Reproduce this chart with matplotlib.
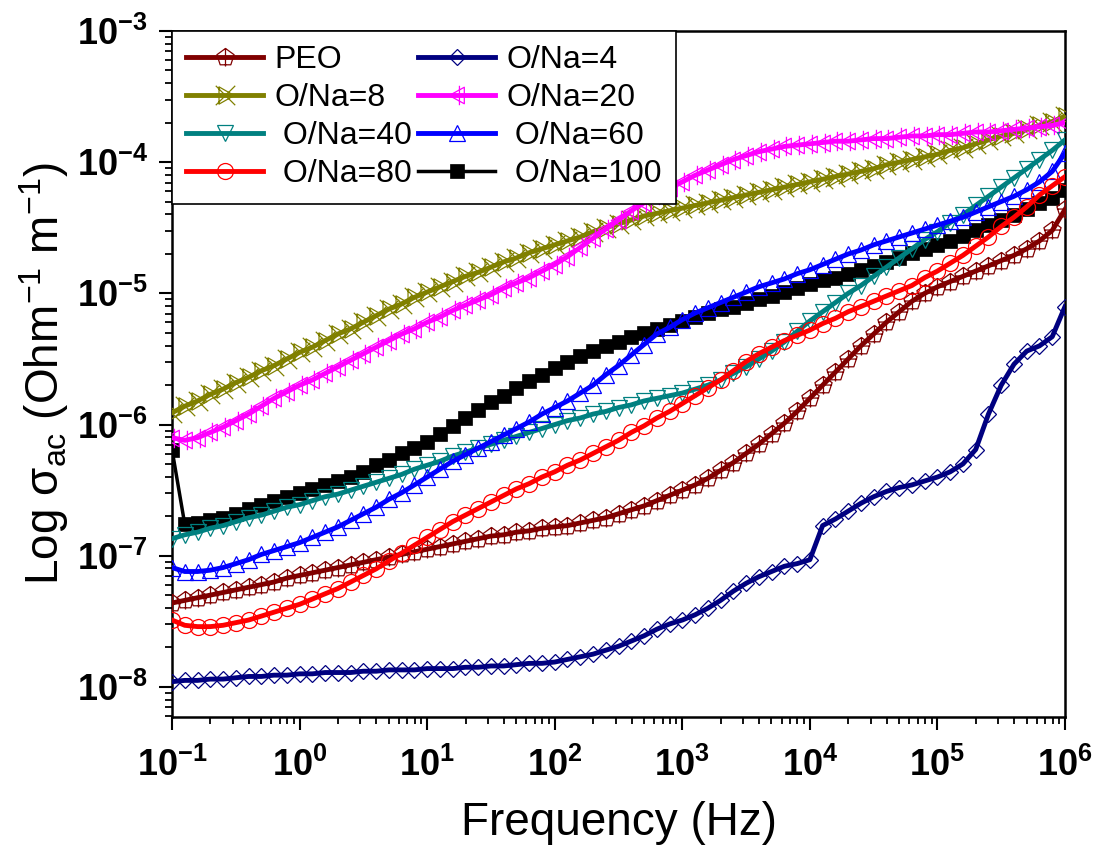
import numpy as np
import matplotlib

matplotlib.use('Agg')
import matplotlib.pyplot as plt
from matplotlib.path import Path
from matplotlib.ticker import LogLocator, FuncFormatter, NullFormatter

plt.rcParams['font.family'] = 'Liberation Sans'
plt.rcParams['mathtext.fontset'] = 'custom'
plt.rcParams['mathtext.rm'] = 'Liberation Sans'
plt.rcParams['mathtext.it'] = 'Liberation Sans:italic'
plt.rcParams['mathtext.bf'] = 'Liberation Sans:bold'

# measurement frequencies (Hz), 10 points per decade
freq = np.logspace(-1, 6, 71)

# log10 of ac conductivity for each sample
log_peo = [-7.36, -7.34, -7.32, -7.30, -7.28, -7.26, -7.24, -7.22, -7.20, -7.17,
           -7.15, -7.13, -7.11, -7.09, -7.07, -7.05, -7.03, -7.01, -6.99, -6.97,
           -6.95, -6.93, -6.91, -6.89, -6.87, -6.85, -6.84, -6.82, -6.81, -6.79,
           -6.78, -6.77, -6.75, -6.73, -6.71, -6.68, -6.65, -6.62, -6.58, -6.54,
           -6.50, -6.46, -6.41, -6.35, -6.29, -6.22, -6.15, -6.07, -5.99, -5.90,
           -5.80, -5.70, -5.60, -5.50, -5.40, -5.31, -5.22, -5.14, -5.06, -5.00,
           -4.95, -4.91, -4.87, -4.83, -4.79, -4.75, -4.71, -4.66, -4.60, -4.52,
           -4.36]
log_na4 = [-7.96, -7.95, -7.95, -7.94, -7.94, -7.93, -7.92, -7.92, -7.91, -7.91,
           -7.90, -7.90, -7.89, -7.89, -7.89, -7.88, -7.88, -7.87, -7.87, -7.87,
           -7.86, -7.86, -7.86, -7.85, -7.85, -7.84, -7.84, -7.83, -7.82, -7.82,
           -7.81, -7.79, -7.77, -7.75, -7.72, -7.69, -7.65, -7.61, -7.56, -7.52,
           -7.49, -7.45, -7.40, -7.34, -7.27, -7.21, -7.16, -7.12, -7.08, -7.06,
           -7.03, -6.77, -6.72, -6.66, -6.60, -6.55, -6.51, -6.48, -6.46, -6.43,
           -6.40, -6.36, -6.30, -6.19, -5.92, -5.70, -5.54, -5.44, -5.40, -5.33,
           -5.10]
log_na8 = [-5.91, -5.86, -5.82, -5.77, -5.73, -5.68, -5.64, -5.59, -5.55, -5.50,
           -5.45, -5.41, -5.36, -5.31, -5.27, -5.22, -5.17, -5.12, -5.08, -5.03,
           -4.99, -4.95, -4.91, -4.87, -4.84, -4.80, -4.76, -4.73, -4.69, -4.66,
           -4.63, -4.60, -4.57, -4.53, -4.50, -4.47, -4.44, -4.41, -4.39, -4.37,
           -4.35, -4.33, -4.31, -4.29, -4.27, -4.25, -4.23, -4.21, -4.19, -4.17,
           -4.15, -4.13, -4.11, -4.09, -4.07, -4.05, -4.02, -4.00, -3.98, -3.96,
           -3.94, -3.91, -3.89, -3.86, -3.83, -3.80, -3.78, -3.75, -3.72, -3.69,
           -3.65]
log_na20 = [-6.10, -6.12, -6.10, -6.06, -6.02, -5.97, -5.92, -5.86, -5.80, -5.75,
            -5.70, -5.66, -5.61, -5.56, -5.51, -5.46, -5.41, -5.36, -5.31, -5.27,
            -5.22, -5.18, -5.13, -5.09, -5.05, -5.01, -4.96, -4.92, -4.88, -4.83,
            -4.78, -4.72, -4.65, -4.58, -4.51, -4.44, -4.37, -4.31, -4.25, -4.20,
            -4.15, -4.10, -4.06, -4.02, -3.98, -3.95, -3.92, -3.90, -3.88, -3.87,
            -3.86, -3.85, -3.84, -3.84, -3.83, -3.82, -3.82, -3.81, -3.80, -3.80,
            -3.79, -3.79, -3.78, -3.77, -3.77, -3.76, -3.75, -3.74, -3.73, -3.72,
            -3.70]
log_na40 = [-6.87, -6.84, -6.82, -6.79, -6.77, -6.74, -6.71, -6.69, -6.66, -6.63,
            -6.61, -6.58, -6.55, -6.53, -6.50, -6.47, -6.44, -6.41, -6.38, -6.34,
            -6.31, -6.28, -6.24, -6.21, -6.18, -6.15, -6.12, -6.09, -6.06, -6.03,
            -6.00, -5.97, -5.95, -5.92, -5.90, -5.87, -5.85, -5.82, -5.80, -5.78,
            -5.76, -5.73, -5.70, -5.66, -5.61, -5.56, -5.50, -5.44, -5.37, -5.29,
            -5.21, -5.14, -5.07, -5.00, -4.94, -4.87, -4.80, -4.73, -4.66, -4.59,
            -4.53, -4.46, -4.40, -4.33, -4.26, -4.19, -4.12, -4.05, -3.98, -3.91,
            -3.83]
log_na60 = [-7.09, -7.12, -7.12, -7.11, -7.09, -7.06, -7.03, -6.99, -6.96, -6.93,
            -6.90, -6.86, -6.82, -6.78, -6.73, -6.68, -6.63, -6.57, -6.52, -6.46,
            -6.40, -6.34, -6.28, -6.23, -6.18, -6.13, -6.08, -6.03, -5.98, -5.92,
            -5.87, -5.82, -5.76, -5.70, -5.62, -5.55, -5.47, -5.39, -5.31, -5.26,
            -5.20, -5.15, -5.11, -5.07, -5.03, -4.99, -4.95, -4.92, -4.89, -4.85,
            -4.82, -4.78, -4.74, -4.70, -4.67, -4.63, -4.60, -4.57, -4.54, -4.51,
            -4.48, -4.45, -4.42, -4.38, -4.34, -4.30, -4.26, -4.21, -4.15, -4.07,
            -3.93]
log_na80 = [-7.49, -7.53, -7.54, -7.54, -7.53, -7.51, -7.49, -7.46, -7.43, -7.40,
            -7.37, -7.33, -7.29, -7.25, -7.20, -7.15, -7.10, -7.04, -6.98, -6.92,
            -6.86, -6.80, -6.74, -6.69, -6.64, -6.59, -6.54, -6.49, -6.45, -6.40,
            -6.36, -6.31, -6.27, -6.22, -6.17, -6.12, -6.06, -6.01, -5.95, -5.90,
            -5.84, -5.78, -5.72, -5.66, -5.59, -5.52, -5.46, -5.41, -5.36, -5.32,
            -5.28, -5.23, -5.19, -5.14, -5.10, -5.06, -5.02, -4.98, -4.94, -4.88,
            -4.83, -4.77, -4.71, -4.64, -4.57, -4.49, -4.42, -4.34, -4.25, -4.18,
            -4.11]
log_na100 = [-6.19, -6.76, -6.75, -6.73, -6.71, -6.68, -6.64, -6.61, -6.58, -6.55,
             -6.52, -6.49, -6.46, -6.43, -6.40, -6.36, -6.31, -6.27, -6.22, -6.18,
             -6.13, -6.07, -6.01, -5.95, -5.89, -5.83, -5.78, -5.72, -5.67, -5.62,
             -5.57, -5.52, -5.48, -5.44, -5.40, -5.37, -5.33, -5.30, -5.27, -5.24,
             -5.21, -5.18, -5.15, -5.12, -5.10, -5.07, -5.04, -5.02, -4.99, -4.96,
             -4.93, -4.90, -4.88, -4.85, -4.82, -4.79, -4.76, -4.73, -4.69, -4.66,
             -4.63, -4.60, -4.56, -4.52, -4.48, -4.44, -4.40, -4.36, -4.31, -4.27,
             -4.21]


def make_marker(parts):
    # parts: list of (points, closed) strokes combined into one marker path
    verts, codes = [], []
    for pts, closed in parts:
        verts += pts
        codes += [Path.MOVETO] + [Path.LINETO] * (len(pts) - 1)
        if closed:
            verts.append(pts[0])
            codes.append(Path.CLOSEPOLY)
    return Path(verts, codes)


pentagon_cross = make_marker([
    ([(0, 1), (-0.951, 0.309), (-0.588, -0.809), (0.588, -0.809), (0.951, 0.309)], True),
    ([(0, 1), (0, -1.0)], False),
    ([(-0.95, 0.05), (0.95, 0.05)], False),
])
tri_right_x = make_marker([
    ([(-0.6, 0.8), (0.8, 0), (-0.6, -0.8)], True),
    ([(-0.9, 0.9), (0.9, -0.9)], False),
    ([(-0.9, -0.9), (0.9, 0.9)], False),
])
tri_left_bar = make_marker([
    ([(0.7, 0.85), (-0.85, 0), (0.7, -0.85)], True),
    ([(0.2, 1.0), (0.2, -1.0)], False),
])

fig = plt.figure(figsize=(10.95, 8.49), dpi=100)
ax = fig.add_axes([172 / 1095, 1 - 717 / 849, 893 / 1095, 686 / 849])

lw = 3.5
mew = 0.9
common = dict(linewidth=lw, markeredgewidth=mew, markerfacecolor='none')

h_peo, = ax.plot(freq, 10 ** np.array(log_peo), color='#800000', marker=pentagon_cross,
                 markersize=13, label='PEO', zorder=3, **common)
h_4, = ax.plot(freq, 10 ** np.array(log_na4), color='#000080', marker='D',
               markersize=8.5, label='O/Na=4', zorder=3, **common)
h_8, = ax.plot(freq, 10 ** np.array(log_na8), color='#808000', marker=tri_right_x,
               markersize=14, label='O/Na=8', zorder=3, **common)
h_20, = ax.plot(freq, 10 ** np.array(log_na20), color='#FF00FF', marker=tri_left_bar,
                markersize=14, label='O/Na=20', zorder=3, **common)
h_40, = ax.plot(freq, 10 ** np.array(log_na40), color='#008080', marker='v',
                markersize=12, label=' O/Na=40', zorder=3, **common)
h_60, = ax.plot(freq, 10 ** np.array(log_na60), color='#0000FF', marker='^',
                markersize=12, label=' O/Na=60', zorder=3, **common)
h_80, = ax.plot(freq, 10 ** np.array(log_na80), color='#FF0000', marker='o',
                markersize=11.5, label=' O/Na=80', zorder=3, **common)
h_100, = ax.plot(freq, 10 ** np.array(log_na100), color='black', marker='s',
                 markersize=9.5, linewidth=2.5, markeredgewidth=0.5,
                 markerfacecolor='black', label=' O/Na=100', zorder=2)

ax.set_xscale('log')
ax.set_yscale('log')
ax.set_xlim(1e-1, 1e6)
ax.set_ylim(10 ** -8.229, 1e-3)


def decade_label(v, pos):
    e = int(round(np.log10(v)))
    return r'$\mathbf{10^{%d}}$' % e


for axis in (ax.xaxis, ax.yaxis):
    axis.set_major_locator(LogLocator(base=10.0, numticks=20))
    axis.set_minor_locator(LogLocator(base=10.0, subs=np.arange(2, 10), numticks=20))
    axis.set_major_formatter(FuncFormatter(decade_label))
    axis.set_minor_formatter(NullFormatter())

ax.tick_params(which='major', direction='out', length=9.5, width=1.5,
               labelsize=26, pad=8, top=False, right=False)
ax.tick_params(axis='x', which='major', pad=13)
ax.tick_params(which='minor', direction='out', length=5, width=1.3,
               top=False, right=False)
for sp in ax.spines.values():
    sp.set_linewidth(1.8)

ax.set_xlabel('Frequency (Hz)', fontsize=33, labelpad=12)
ax.set_ylabel(r'Log $\mathregular{\sigma_{ac}}$ (Ohm$^{\mathregular{-1}}$ m$^{\mathregular{-1}}$)',
              fontsize=33, labelpad=4)

handles = [h_peo, h_8, h_40, h_80, h_4, h_20, h_60, h_100]
leg = ax.legend(handles=handles, loc='upper left', bbox_to_anchor=(0, 1),
                borderaxespad=0, ncol=2, fontsize=23, frameon=True,
                fancybox=False, edgecolor='black', framealpha=1,
                handlelength=2.4, handletextpad=0.35, columnspacing=0.2,
                labelspacing=0.25, borderpad=0.45, numpoints=1)
leg.get_frame().set_linewidth(1.2)

fig.savefig('out.png', dpi=100, facecolor='white')
